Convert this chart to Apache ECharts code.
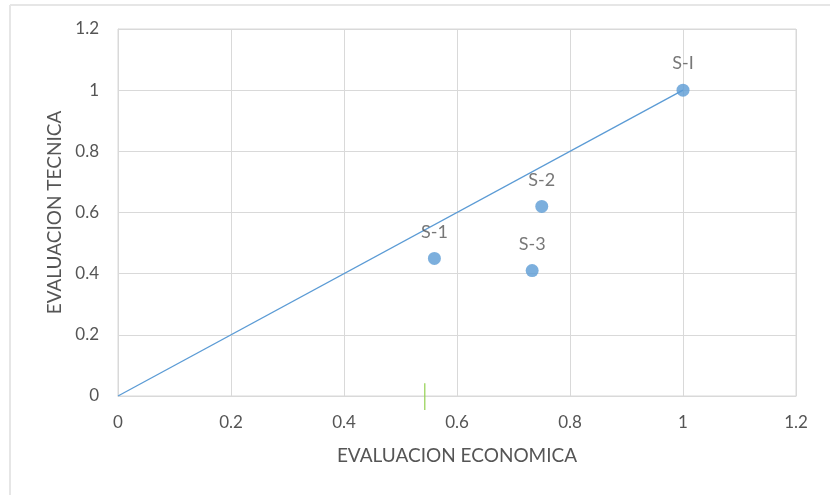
<!DOCTYPE html>
<html>
<head>
<meta charset="utf-8">
<script src="https://cdn.jsdelivr.net/npm/echarts@6/dist/echarts.min.js"></script>
<style>
  html, body { margin: 0; padding: 0; background: #fff; }
  #chart { width: 830px; height: 495px; }
</style>
</head>
<body>
<div id="chart"></div>
<script>
// puntos de las soluciones
let names = ['S-1', 'S-2', 'S-3', 'S-I'];
let economica = [0.56, 0.75, 0.733, 1];
let tecnica = [0.45, 0.62, 0.41, 1];

// recta de referencia
let lineX = [0, 1];
let lineY = [0, 1];

// marca verde suelta
let greenX = [0.543, 0.543];
let greenY = [0.042, -0.046];

let xTicks = [0, 0.2, 0.4, 0.6, 0.8, 1, 1.2];

let font = 'Lato, "Open Sans", sans-serif';
let txt = '#555555';

var myChart = echarts.init(document.getElementById('chart'));

let option = {
    animation: false,
    textStyle: { fontFamily: font },
    grid: {
        left: 118,
        right: 34,
        top: 29,
        bottom: 99,
        show: true,
        borderColor: '#d9d9d9',
        borderWidth: 1
    },
    graphic: [
        { type: 'line', shape: { x1: 10, y1: 5, x2: 830, y2: 5 }, style: { stroke: '#e6e6e6', lineWidth: 2 } },
        { type: 'line', shape: { x1: 10, y1: 5, x2: 10, y2: 495 }, style: { stroke: '#e6e6e6', lineWidth: 2 } }
    ],
    xAxis: {
        type: 'value',
        min: 0,
        max: 1.2,
        interval: 0.2,
        name: 'EVALUACION ECONOMICA',
        nameLocation: 'middle',
        nameGap: 50,
        nameTextStyle: { color: txt, fontSize: 19, fontFamily: font },
        axisLine: { show: true, lineStyle: { color: '#d9d9d9' } },
        axisTick: { show: false },
        axisLabel: {
            color: txt, fontSize: 17, margin: 18, fontFamily: font,
            formatter: function (v) {
                let t = xTicks.find(function (k) { return Math.abs(k - v) < 1e-6; });
                return t === undefined ? '' : String(t);
            }
        },
        splitLine: { lineStyle: { color: '#d9d9d9' } }
    },
    yAxis: {
        type: 'value',
        min: 0,
        max: 1.2,
        interval: 0.2,
        name: 'EVALUACION TECNICA',
        nameLocation: 'middle',
        nameGap: 53,
        nameTextStyle: { color: txt, fontSize: 19, fontFamily: font },
        axisLine: { show: true, lineStyle: { color: '#d9d9d9' } },
        axisTick: { show: false },
        axisLabel: {
            color: txt, fontSize: 17, margin: 19, fontFamily: font,
            formatter: function (v) { return String(Math.round(v * 10) / 10); }
        },
        splitLine: { lineStyle: { color: '#d9d9d9' } }
    },
    series: [
        {
            type: 'line',
            data: lineX.map(function (x, i) { return [x, lineY[i]]; }),
            symbol: 'none',
            lineStyle: { color: '#5b9bd5', width: 1.3 },
            z: 2
        },
        {
            type: 'scatter',
            data: names.map(function (n, i) { return { name: n, value: [economica[i], tecnica[i]] }; }),
            symbolSize: 13,
            itemStyle: { color: '#5b9bd5' },
            label: {
                show: true,
                position: 'top',
                distance: 11,
                color: txt,
                fontSize: 18,
                fontFamily: font,
                formatter: function (p) { return p.name; }
            },
            z: 3
        },
        {
            type: 'line',
            data: greenX.map(function (x, i) { return [x, greenY[i]]; }),
            symbol: 'none',
            clip: false,
            lineStyle: { color: '#92d050', width: 1.2 },
            z: 4
        }
    ]
};

myChart.setOption(option);
</script>
</body>
</html>
